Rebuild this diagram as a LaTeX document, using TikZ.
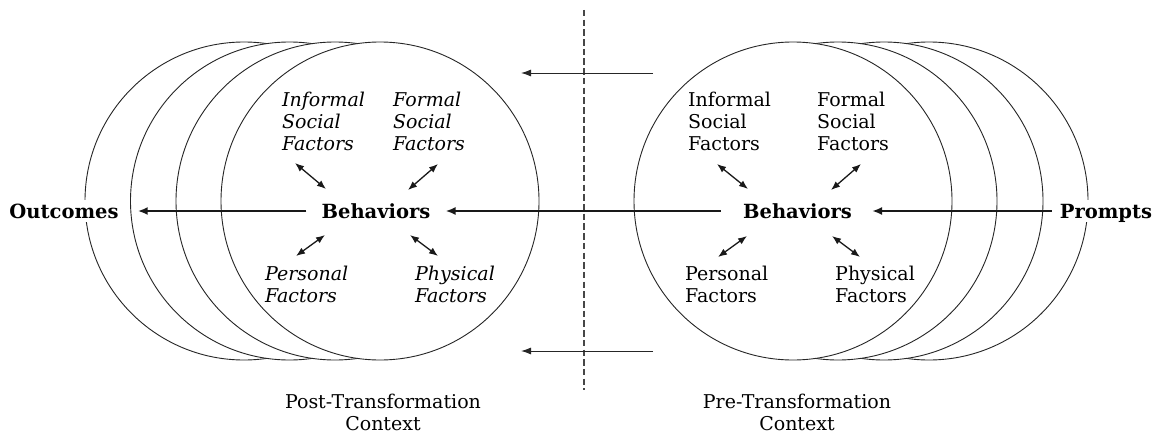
\documentclass[tikz,border=0pt]{standalone}
\usepackage{fontspec}
\setmainfont{DejaVu Serif}
\usetikzlibrary{arrows.meta}
\begin{document}
\begin{tikzpicture}[x=1pt,y=-1pt,
  ring/.style={circle, draw=black!85, line width=0.9pt, fill=white, minimum size=318pt, inner sep=0pt},
  factor/.style={anchor=base west, align=left, inner sep=0pt, font=\fontsize{19}{22}\selectfont},
  ifactor/.style={factor, font=\itshape\fontsize{19}{22}\selectfont},
  keyword/.style={anchor=base, inner sep=0pt, text height=18pt, text depth=4pt, font=\bfseries\fontsize{19.5}{22}\selectfont, fill=white},
  ctx/.style={anchor=base, align=center, inner sep=0pt, font=\fontsize{19}{22}\selectfont},
  mainarrow/.style={-{Latex[length=10pt,width=8pt]}, line width=2.1pt, draw=black!90},
  dblarrow/.style={{Latex[length=9pt,width=7pt]}-{Latex[length=9pt,width=7pt]}, line width=1.3pt, draw=black!90},
  thinarrow/.style={-{Latex[length=10pt,width=7pt]}, line width=1pt, draw=black!85},
  divider/.style={dash pattern=on 6.5pt off 3.2pt, line width=1.3pt, draw=black!72}
]
\useasboundingbox (0,0) rectangle (1158,436);

% post-transformation circles (front one on the right)
\node[ring] (L1) at (244,201) {};
\node[ring] (L2) at (289.5,201) {};
\node[ring] (L3) at (335,201) {};
\node[ring] (L4) at (380,201) {};
% pre-transformation circles (front one on the left)
\node[ring] (R4) at (929,201) {};
\node[ring] (R3) at (884,201) {};
\node[ring] (R2) at (838,201) {};
\node[ring] (R1) at (793,201) {};

% divider
\coordinate (dtop) at (584,10);
\coordinate (dbot) at (584,390);
\draw[divider] (dtop) -- (dbot);

% thin arrows
\coordinate (t1s) at (653,73);
\coordinate (t1e) at (521,73);
\coordinate (t2s) at (653,351);
\coordinate (t2e) at (521,351);
\draw[thinarrow] (t1s) -- (t1e);
\draw[thinarrow] (t2s) -- (t2e);

% key nodes
\node[keyword] (outcomes) at (64,218) {Outcomes};
\node[keyword] (behL) at (376,218) {Behaviors};
\node[keyword] (behR) at (797.5,218) {Behaviors};
\node[keyword] (prompts) at (1106,218) {Prompts};

% factors, post (italic) -- anchored at baseline of last line
\node[ifactor] (liSoc) at (282,150) {Informal\\Social\\Factors};
\node[ifactor] (lfSoc) at (393,150) {Formal\\Social\\Factors};
\node[ifactor] (lPers) at (265,302) {Personal\\Factors};
\node[ifactor] (lPhys) at (415,302) {Physical\\Factors};
% factors, pre (upright)
\node[factor] (riSoc) at (688,150) {Informal\\Social\\Factors};
\node[factor] (rfSoc) at (817,150) {Formal\\Social\\Factors};
\node[factor] (rPers) at (685,302) {Personal\\Factors};
\node[factor] (rPhys) at (835,302) {Physical\\Factors};

% main arrows
\draw[mainarrow] ([xshift=-8pt]prompts.west) -- ([xshift=20pt]behR.east);
\draw[mainarrow] ([xshift=-22pt]behR.west) -- ([xshift=15pt]behL.east);
\draw[mainarrow] ([xshift=-15pt]behL.west) -- ([xshift=19pt]outcomes.east);

% double arrows, post
\coordinate (a1) at (295,163); \coordinate (b1) at (326,189);
\coordinate (a2) at (438,164); \coordinate (b2) at (408,190);
\coordinate (a3) at (296,256); \coordinate (b3) at (325,235);
\coordinate (a4) at (438,256); \coordinate (b4) at (410,235);
\draw[dblarrow] (a1) -- (b1);
\draw[dblarrow] (a2) -- (b2);
\draw[dblarrow] (a3) -- (b3);
\draw[dblarrow] (a4) -- (b4);
% double arrows, pre
\coordinate (c1) at (717,164); \coordinate (d1) at (748,189);
\coordinate (c2) at (861,164); \coordinate (d2) at (831,190);
\coordinate (c3) at (718,257); \coordinate (d3) at (747,236);
\coordinate (c4) at (860,257); \coordinate (d4) at (832,236);
\draw[dblarrow] (c1) -- (d1);
\draw[dblarrow] (c2) -- (d2);
\draw[dblarrow] (c3) -- (d3);
\draw[dblarrow] (c4) -- (d4);

% context labels
\node[ctx] (postctx) at (383,430) {Post-Transformation\\Context};
\node[ctx] (prectx) at (797,430) {Pre-Transformation\\Context};
\end{tikzpicture}
\end{document}
